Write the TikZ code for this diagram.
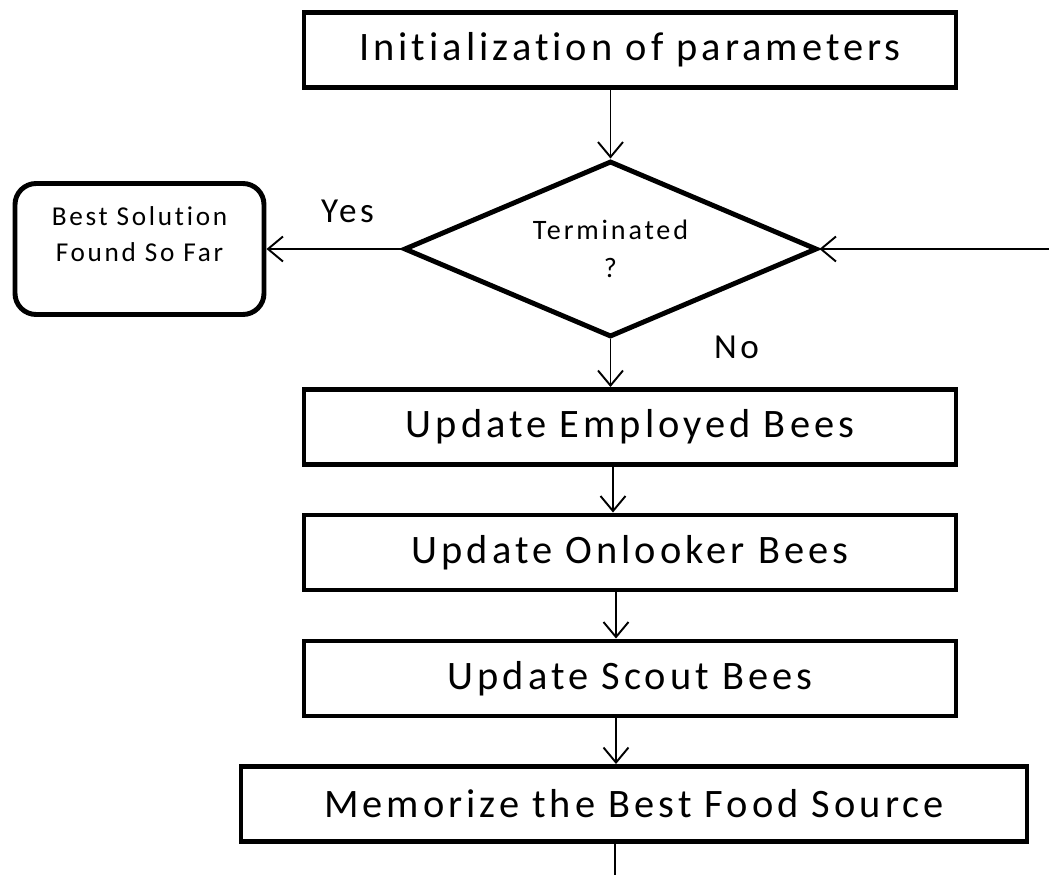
\documentclass[tikz,border=0pt]{standalone}
\usepackage{fontspec}
\setmainfont{Carlito}[LetterSpace=10, Ligatures=NoCommon]
\usetikzlibrary{shapes.geometric,arrows.meta}

\begin{document}
\begin{tikzpicture}[
        proc/.style={draw, line width=2.8pt, align=center, font=\fontsize{23}{27}\selectfont, minimum width=13.04cm, minimum height=1.5cm, inner sep=0pt},
        decis/.style={draw, diamond, aspect=2.35, line width=2.8pt, align=center, font=\fontsize{16}{21.5}\selectfont, minimum width=8.26cm, minimum height=3.52cm, inner sep=0pt},
        salida/.style={draw, rounded corners=12pt, line width=2.8pt, align=center, font=\fontsize{15.5}{21}\selectfont, minimum width=4.98cm, minimum height=2.62cm, inner sep=0pt},
        etiq/.style={font=\fontsize{20}{24}\selectfont, inner sep=0pt},
        flecha/.style={->, >={Straight Barb[length=3mm, width=5mm]}, line width=1.1pt}
    ]
    \useasboundingbox (0,0) rectangle (20.98,-17.5);
    \node (p1) [proc] at (12.6,-1.0) {Initialization\ of\ parameters};
    \node (p2) [decis, below of=p1, yshift=-2.98cm, xshift=-0.39cm] {Terminated\\?};
    \node (p3) [salida, left of=p2, xshift=-8.42cm] {Best Solution\\Found So Far\\[-4pt]\mbox{}};
    \node (p4) [proc, below of=p2, yshift=-2.56cm, xshift=0.39cm] {Update Employed Bees};
    \node (p5) [proc, below of=p4, yshift=-1.51cm] {Update Onlooker Bees};
    \node (p6) [proc, below of=p5, yshift=-1.52cm] {Update Scout Bees};
    \node (p7) [proc, below of=p6, yshift=-1.51cm, xshift=0.08cm, minimum width=15.72cm] {Memorize the Best Food Source};
    \coordinate (borde) at (20.98,0);
    \coordinate (der) at (p2.east -| borde);
    \coordinate (abajo) at (12.3,-17.5);

    \draw [flecha] (p1.south -| p2.north) -- (p2.north);
    \draw [flecha] (p2.west) -- (p3.east) node [etiq, pos=0.4, yshift=0.76cm] {Yes};
    \draw [flecha] (der) -- (p2.east);
    \draw [flecha] (p2.south) -- (p2.south |- p4.north) node [etiq, pos=0.16, xshift=2.52cm] {No};
    \draw [flecha] ([xshift=-0.34cm]p4.south) -- ([xshift=-0.34cm]p5.north);
    \draw [flecha] ([xshift=-0.28cm]p5.south) -- ([xshift=-0.28cm]p6.north);
    \draw [flecha] ([xshift=-0.28cm]p6.south) -- ([xshift=-0.28cm]p6.south |- p7.north);
    \draw [line width=1.1pt] (p7.south -| abajo) -- (abajo);
    \end{tikzpicture}
\end{document}
